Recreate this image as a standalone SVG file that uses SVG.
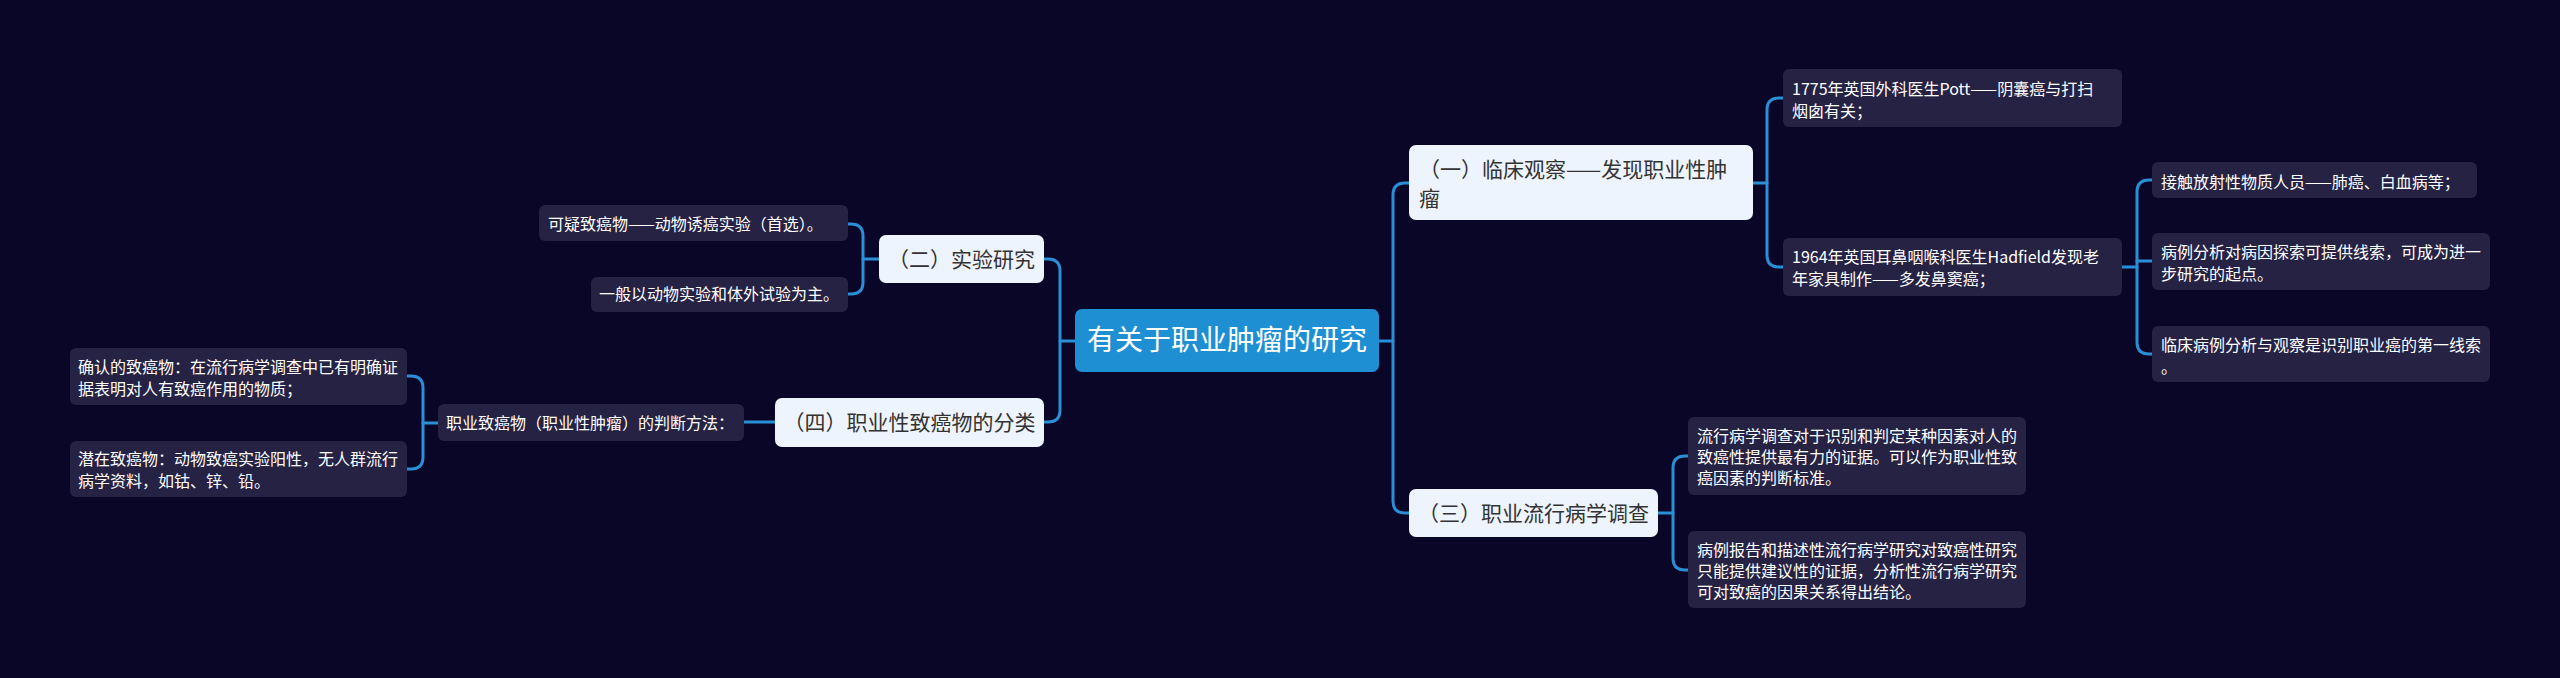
<svg xmlns="http://www.w3.org/2000/svg" width="2560" height="678" viewBox="0 0 2560 678">
<style>
.bg{fill:#0a0628}
.root rect{fill:#1f8fd4}
.root text{fill:#ffffff;font-size:28px}
.l1 rect{fill:#eef4fd}
.l1 text{fill:#333333;font-size:21px}
.l2 rect{fill:#262244}
.l2 text{fill:#ffffff;font-size:16px}
text{font-family:"Noto Sans CJK SC","Noto Sans",sans-serif}
#connectors path{fill:none;stroke:#2a8fd6;stroke-width:3;stroke-linecap:round}
</style>
<rect class="bg" x="0" y="0" width="2560" height="678"/>
<g id="connectors">
<path d="M1379,341 H1393"/>
<path d="M1409,183 H1405 Q1393,183 1393,195 V501 Q1393,513 1405,513 H1409"/>
<path d="M1753,183 H1767"/>
<path d="M1783,98 H1779 Q1767,98 1767,110 V255 Q1767,267 1779,267 H1783"/>
<path d="M2122,267 H2137"/>
<path d="M2152,180 H2149 Q2137,180 2137,192 V342 Q2137,354 2149,354 H2152"/>
<path d="M2137,261 H2152"/>
<path d="M1658,513 H1673"/>
<path d="M1688,456 H1685 Q1673,456 1673,468 V558 Q1673,570 1685,570 H1688"/>
<path d="M1075,341 H1060"/>
<path d="M1044,259 H1048 Q1060,259 1060,271 V410 Q1060,422 1048,422 H1044"/>
<path d="M879,259 H863"/>
<path d="M848,224 H851 Q863,224 863,236 V282 Q863,294 851,294 H848"/>
<path d="M775,422 H744"/>
<path d="M438,423 H423"/>
<path d="M407,376 H411 Q423,376 423,388 V457 Q423,469 411,469 H407"/>
</g>
<g id="root" class="root">
<rect x="1075" y="309" width="304" height="63" rx="7"/>
<text x="1227" y="350" text-anchor="middle">有关于职业肿瘤的研究</text>
</g>
<g id="n1" class="l1">
<rect x="1409" y="145" width="344" height="75" rx="7"/>
<text x="1419" y="176.5">（一）临床观察——发现职业性肿</text>
<text x="1419" y="205.5">瘤</text>
</g>
<g id="n1a" class="l2">
<rect x="1783" y="69" width="339" height="58" rx="6"/>
<text x="1792" y="95">1775年英国外科医生Pott——阴囊癌与打扫</text>
<text x="1792" y="117">烟囱有关；</text>
</g>
<g id="n1b" class="l2">
<rect x="1783" y="238" width="339" height="58" rx="6"/>
<text x="1792" y="263">1964年英国耳鼻咽喉科医生Hadfield发现老</text>
<text x="1792" y="285">年家具制作——多发鼻窦癌；</text>
</g>
<g id="n1b1" class="l2">
<rect x="2152" y="162" width="325" height="36" rx="6"/>
<text x="2161" y="187.5">接触放射性物质人员——肺癌、白血病等；</text>
</g>
<g id="n1b2" class="l2">
<rect x="2152" y="233" width="338" height="57" rx="6"/>
<text x="2161" y="258">病例分析对病因探索可提供线索，可成为进一</text>
<text x="2161" y="280">步研究的起点。</text>
</g>
<g id="n1b3" class="l2">
<rect x="2152" y="326" width="338" height="56" rx="6"/>
<text x="2161" y="351">临床病例分析与观察是识别职业癌的第一线索</text>
<text x="2161" y="373">。</text>
</g>
<g id="n3" class="l1">
<rect x="1409" y="489" width="249" height="48" rx="7"/>
<text x="1533.5" y="520.5" text-anchor="middle">（三）职业流行病学调查</text>
</g>
<g id="n3a" class="l2">
<rect x="1688" y="417" width="338" height="78" rx="6"/>
<text x="1697" y="442">流行病学调查对于识别和判定某种因素对人的</text>
<text x="1697" y="463">致癌性提供最有力的证据。可以作为职业性致</text>
<text x="1697" y="484">癌因素的判断标准。</text>
</g>
<g id="n3b" class="l2">
<rect x="1688" y="531" width="338" height="77" rx="6"/>
<text x="1697" y="556">病例报告和描述性流行病学研究对致癌性研究</text>
<text x="1697" y="577">只能提供建议性的证据，分析性流行病学研究</text>
<text x="1697" y="598">可对致癌的因果关系得出结论。</text>
</g>
<g id="n2" class="l1">
<rect x="879" y="235" width="165" height="48" rx="7"/>
<text x="961.5" y="266.5" text-anchor="middle">（二）实验研究</text>
</g>
<g id="n2a" class="l2">
<rect x="539" y="205" width="309" height="36" rx="6"/>
<text x="548" y="229.5">可疑致癌物——动物诱癌实验（首选）。</text>
</g>
<g id="n2b" class="l2">
<rect x="591" y="277" width="257" height="35" rx="6"/>
<text x="599" y="300">一般以动物实验和体外试验为主。</text>
</g>
<g id="n4" class="l1">
<rect x="775" y="398" width="269" height="49" rx="7"/>
<text x="909.5" y="429.5" text-anchor="middle">（四）职业性致癌物的分类</text>
</g>
<g id="n4a" class="l2">
<rect x="438" y="404" width="306" height="37" rx="6"/>
<text x="446" y="428.5">职业致癌物（职业性肿瘤）的判断方法：</text>
</g>
<g id="n4a1" class="l2">
<rect x="70" y="348" width="337" height="57" rx="6"/>
<text x="78" y="373">确认的致癌物：在流行病学调查中已有明确证</text>
<text x="78" y="395">据表明对人有致癌作用的物质；</text>
</g>
<g id="n4a2" class="l2">
<rect x="70" y="441" width="337" height="56" rx="6"/>
<text x="78" y="465">潜在致癌物：动物致癌实验阳性，无人群流行</text>
<text x="78" y="487">病学资料，如钴、锌、铅。</text>
</g>
</svg>
